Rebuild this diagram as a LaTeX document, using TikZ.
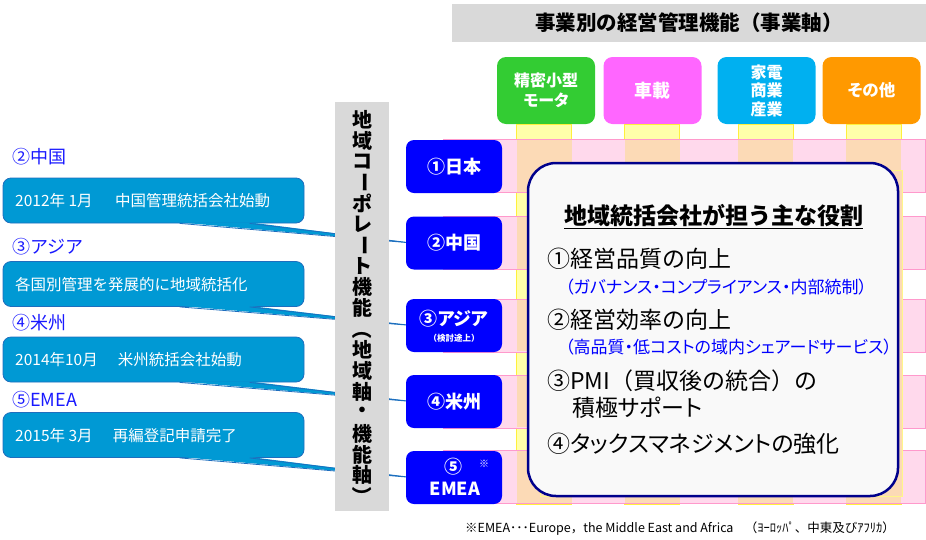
\documentclass[tikz,border=0pt]{standalone}
\usepackage{fontspec}
\setmainfont{Noto Sans CJK JP}
\newfontfamily\pp{Noto Sans CJK JP}[RawFeature=+palt]
\usetikzlibrary{calc}
\newcommand\fsz[2]{\fontsize{#1}{#2}\selectfont}
\definecolor{hdrgray}{RGB}{217,217,217}
\definecolor{cgreen}{RGB}{51,204,51}
\definecolor{cpink}{RGB}{255,102,255}
\definecolor{ccyan}{RGB}{0,176,240}
\definecolor{corange}{RGB}{255,153,0}
\definecolor{rowpink}{RGB}{255,217,236}
\definecolor{rowline}{RGB}{255,153,204}
\definecolor{colyel}{RGB}{255,255,170}
\definecolor{colline}{RGB}{255,240,60}
\definecolor{cellor}{RGB}{252,218,182}
\definecolor{regblue}{RGB}{0,0,255}
\definecolor{lboxc}{RGB}{0,153,212}
\definecolor{lboxline}{RGB}{30,110,190}
\definecolor{navy}{RGB}{0,0,140}
\definecolor{panelbg}{RGB}{249,249,249}
\definecolor{lblc}{RGB}{25,25,255}
\begin{document}
\begin{tikzpicture}[x=1pt,y=-1pt,
  colhead/.style={rounded corners=9pt, minimum width=98pt, minimum height=67pt, inner sep=0pt, text=white, font=\pp\bfseries\fsz{16}{20}, align=center},
  regbox/.style={rounded corners=8pt, fill=regblue, minimum width=96pt, minimum height=53pt, inner sep=0pt, text=white, font=\bfseries\fsz{18}{22}, align=center},
  lbox/.style={rounded corners=8pt, fill=lboxc, draw=lboxline, line width=0.8pt, minimum width=301pt, minimum height=45pt, inner sep=0pt},
  lboxtxt/.style={anchor=west, text=white, font=\fsz{15.5}{18}, inner sep=0pt},
  lbl/.style={anchor=west, text=lblc, font=\fsz{18}{22}, inner sep=0pt},
  rowband/.style={fill=rowpink, draw=rowline, line width=0.8pt, minimum width=482pt, minimum height=53pt, inner sep=0pt},
  colband/.style={fill=colyel, draw=colline, line width=0.6pt, minimum width=55pt, minimum height=380pt, inner sep=0pt},
  cell/.style={fill=cellor, minimum width=55pt, minimum height=51.6pt, inner sep=0pt},
  ptext/.style={anchor=west, font=\fsz{23}{27}, inner sep=0pt},
  psub/.style={anchor=west, font=\pp\fsz{17}{20}, text=regblue, inner sep=0pt},
  vchar/.style={font=\bfseries\fsz{20}{22}, inner sep=0pt},
  tailfill/.style={fill=lboxc},
  tailline/.style={draw=lboxline, line width=0.8pt}
]
\useasboundingbox (0,0) rectangle (926,539);

% header bar
\node[fill=hdrgray, minimum width=474pt, minimum height=38pt, inner sep=0pt, font=\bfseries\fsz{20.5}{24}] (hbar) at (689,23) {事業別の経営管理機能（事業軸）};

% business column headers
\node[colhead, fill=cgreen] (h1) at (546,90.5) {精密小型\\モータ};
\node[colhead, fill=cpink, font=\pp\bfseries\fsz{18}{20}] (h2) at (652.5,90.5) {車載};
\node[colhead, fill=ccyan, font=\pp\bfseries\fsz{16}{18.5}] (h3) at (766.5,90.5) {家電\\商業\\産業};
\node[colhead, fill=corange, font=\pp\bfseries\fsz{16.5}{20}] (h4) at (871.5,90.5) {その他};

% column strips
\foreach \cx [count=\i] in {544,652,765.5,873.5}
  \node[colband] (col\i) at (\cx,314) {};
% row bands
\foreach \ry [count=\j] in {166,243,325.5,401.5,477}
  \node[rowband] (row\j) at (684,\ry) {};
% intersections
\foreach \cx [count=\i] in {544,652,765.5,873.5}
  \foreach \ry [count=\j] in {166,243,325.5,401.5,477}
    \node[cell] (cell\i\j) at (\cx,\ry) {};

% panel backdrop and panel
\node[fill=cellor, draw=colline!60, line width=0.5pt, minimum width=362pt, minimum height=326pt, inner sep=0pt] (pback) at (721,333) {};
\node[rounded corners=28pt, fill=panelbg, draw=navy, line width=2.5pt, minimum width=370pt, minimum height=333pt, inner sep=0pt] (panel) at (713,329.5) {};

\node[inner sep=0pt, font=\bfseries\fsz{23}{27}] (ptitle) at (713.5,217) {\underline{地域統括会社が担う主な役割}};
\node[ptext] (p1) at (547,259) {①経営品質の向上};
\node[psub] (s1) at (565,287) {（ガバナンス・コンプライアンス・内部統制）};
\node[ptext] (p2) at (547,320) {②経営効率の向上};
\node[psub] (s2) at (565,347) {（高品質・低コストの域内シェアードサービス）};
\node[ptext] (p3) at (547,381) {③PMI（買収後の統合）の};
\node[ptext, font=\pp\fsz{23}{27}] (p4) at (572,408) {積極サポート};
\node[ptext, font=\pp\fsz{23}{27}] (p5) at (547,444) {④タックスマネジメントの強化};

% left callout boxes
\node[lbox] (lb1) at (153.5,200.5) {};
\node[lbox] (lb2) at (153.5,284) {};
\node[lbox] (lb3) at (153.5,359.5) {};
\node[lbox] (lb4) at (153.5,435) {};
\node[lboxtxt] (lt1) at (15,201) {2012年 1月\hspace{1.45em}中国管理統括会社始動};
\node[lboxtxt] (lt2) at (15,284.5) {各国別管理を発展的に地域統括化};
\node[lboxtxt] (lt3) at (15,360) {2014年10月\hspace{1.3em}米州統括会社始動};
\node[lboxtxt] (lt4) at (15,435.5) {2015年 3月\hspace{1.3em}再編登記申請完了};
\node[lbl] (la1) at (12,157) {②中国};
\node[lbl] (la2) at (12,247) {③アジア};
\node[lbl] (la3) at (12,323) {④米州};
\node[lbl] (la4) at (12,400) {⑤EMEA};

% region box centres
\path (454,166.5) coordinate (r1c) (454,243) coordinate (r2c) (454,325.5) coordinate (r3c) (454,401.5) coordinate (r4c) (454,477.5) coordinate (r5c);

% callout tails
\foreach \lb/\ty in {lb1/243,lb2/325.5,lb3/401.5,lb4/477.5}{
  \coordinate (apex) at (412,\ty);
  \fill[tailfill] ($(\lb.south west)+(177,-1)$) -- (apex) -- ($(\lb.south west)+(247,-1)$) -- cycle;
  \draw[tailline] ($(\lb.south west)+(177,0)$) -- (apex) -- ($(\lb.south west)+(247,0)$);
}

% vertical gray bar
\node[fill=hdrgray, minimum width=54pt, minimum height=409pt, inner sep=0pt] (vbar) at (362,306.5) {};
\foreach \ch [count=\i] in {地,域,コ,{\rotatebox[origin=c]{-90}{ー}},ポ,レ,{\rotatebox[origin=c]{-90}{ー}},ト,機,能,{\rotatebox[origin=c]{-90}{（}},地,域,軸,・,機,能,軸,{\rotatebox[origin=c]{-90}{）}}}
  \node[vchar] (v\i) at (362,{120+(\i-1)*20.9}) {\ch};

% region boxes
\node[regbox] (r1) at (r1c) {①日本};
\node[regbox] (r2) at (r2c) {②中国};
\node[regbox] (r3) at (r3c) {};
\node[regbox] (r4) at (r4c) {④米州};
\node[regbox] (r5) at (r5c) {};
\node[text=white, inner sep=0pt, font=\pp\bfseries\fsz{18}{22}] (r3a) at (454,319) {③アジア};
\node[text=white, inner sep=0pt, font=\bfseries\fsz{8.5}{10}] (r3b) at (454,338.5) {（検討途上）};
\node[text=white, inner sep=0pt, font=\bfseries\fsz{18}{22}] (r5a) at (453,467) {⑤};
\node[text=white, inner sep=0pt, font=\fsz{10}{12}] (r5s) at (484,464) {※};
\node[text=white, inner sep=0pt, font=\bfseries\fsz{18}{22}] (r5b) at (455,489) {EMEA};

% footnote
\node[anchor=west, inner sep=0pt, font=\fsz{12.5}{14}] (fn) at (465,529) {※EMEA･･･Europe，the Middle East and Africa\hspace{0.9em}（ﾖｰﾛｯﾊﾟ、中東及びｱﾌﾘｶ）};
\end{tikzpicture}
\end{document}
